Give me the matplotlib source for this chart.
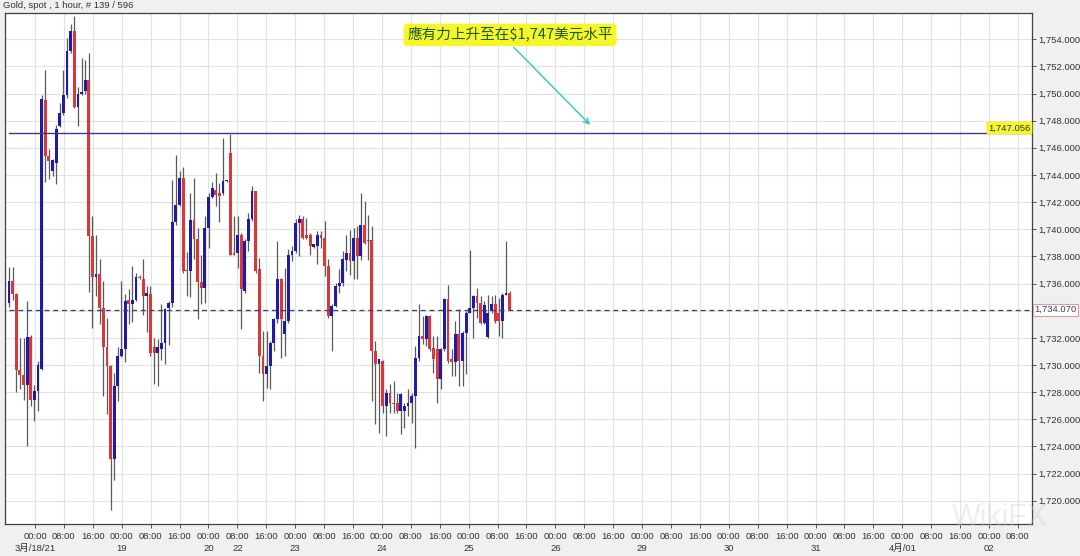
import numpy as np
import matplotlib.pyplot as plt

plt.rcParams['font.family'] = ['Liberation Sans', 'Noto Sans CJK SC']

# hourly candles (blue = up, red = down)
opens = [1734.6, 1736.2, 1735.2, 1729.6, 1729.3, 1728.5, 1732.1, 1727.4, 1728.1, 1729.7,
         1749.5, 1745.4, 1744.3, 1744.9, 1747.6, 1748.6, 1749.9, 1753.1, 1754.6, 1749.0,
         1750.0, 1750.15, 1751.0, 1739.5, 1736.5, 1736.7, 1734.2, 1731.3, 1729.9, 1723.1,
         1728.45, 1730.7, 1731.15, 1734.8, 1734.5, 1734.8, 1736.5, 1736.3, 1735.1, 1735.2,
         1731.3, 1730.9, 1731.15, 1731.6, 1734.2, 1734.6, 1740.5, 1741.8, 1743.8, 1737.0,
         1736.9, 1740.7, 1739.25, 1736.1, 1735.7, 1740.1, 1742.4, 1742.9, 1742.68, 1742.68,
         1743.54, 1745.6, 1738.27, 1738.27, 1739.61, 1735.45, 1739.12, 1740.72, 1742.8, 1737.04,
         1730.67, 1729.32, 1729.93, 1731.65, 1733.36, 1736.31, 1732.26, 1733.24, 1738.14, 1738.39,
         1740.47, 1740.72, 1739.61, 1739.61, 1738.71, 1738.76, 1739.61, 1739.37, 1737.29, 1733.61,
         1734.35, 1735.82, 1736.06, 1737.77, 1738.26, 1737.65, 1739.36, 1738.01, 1740.34, 1739.24,
         1739.24, 1731.03, 1730.05, 1730.29, 1726.98, 1727.96, 1727.23, 1727.23, 1726.62, 1726.62,
         1726.98, 1727.23, 1727.72, 1730.54, 1732.13, 1731.89, 1733.6, 1731.27, 1731.15, 1728.94,
         1731.15, 1734.83, 1730.41, 1730.22, 1732.25, 1730.29, 1732.38, 1733.85, 1734.21, 1735.07,
         1734.58, 1733.11, 1732.08, 1733.97, 1734.46, 1733.85, 1733.23, 1735.19, 1735.32]
highs = [1737.2, 1737.2, 1735.3, 1732.0, 1732.0, 1734.7, 1732.2, 1728.5, 1730.3, 1749.9,
         1751.7, 1745.9, 1745.2, 1747.7, 1749.3, 1751.7, 1754.1, 1755.1, 1755.7, 1750.5,
         1752.6, 1752.5, 1753.0, 1741.0, 1739.6, 1737.8, 1736.2, 1733.5, 1730.0, 1729.4,
         1731.3, 1736.2, 1735.2, 1735.6, 1737.3, 1736.8, 1736.6, 1737.8, 1735.8, 1735.8,
         1732.0, 1731.9, 1734.5, 1734.2, 1734.7, 1743.6, 1745.5, 1744.3, 1744.6, 1738.3,
         1742.7, 1743.8, 1740.1, 1738.1, 1741.0, 1742.7, 1743.5, 1744.15, 1743.4, 1746.7,
         1743.6, 1747.0, 1740.96, 1740.96, 1739.74, 1739.25, 1741.21, 1743.17, 1742.85, 1737.9,
         1732.51, 1732.51, 1731.77, 1733.49, 1739.12, 1736.43, 1737.16, 1738.51, 1738.76, 1740.72,
         1741.08, 1740.96, 1740.84, 1739.7, 1738.9, 1739.86, 1739.86, 1740.59, 1737.78, 1734.47,
         1736.06, 1737.04, 1738.39, 1739.61, 1739.97, 1740.1, 1740.22, 1742.67, 1742.06, 1741.08,
         1740.22, 1731.76, 1730.45, 1730.35, 1728.21, 1728.58, 1728.82, 1727.96, 1727.96, 1727.23,
         1728.21, 1727.96, 1731.4, 1734.46, 1733.6, 1733.72, 1733.72, 1732.13, 1732.13, 1731.27,
         1734.95, 1735.93, 1731.15, 1733.23, 1734.09, 1732.5, 1733.97, 1738.5, 1735.19, 1735.68,
         1735.07, 1734.7, 1735.19, 1735.07, 1735.19, 1734.95, 1735.32, 1739.12, 1735.44]
lows = [1734.3, 1734.8, 1728.0, 1728.2, 1727.4, 1724.0, 1727.0, 1725.9, 1726.6, 1729.6,
        1743.5, 1743.7, 1743.9, 1743.3, 1747.5, 1748.4, 1749.7, 1753.0, 1748.9, 1747.6,
        1749.9, 1750.0, 1735.4, 1732.7, 1735.1, 1733.0, 1727.7, 1726.4, 1719.3, 1721.5,
        1727.35, 1730.6, 1730.2, 1733.0, 1733.2, 1734.7, 1736.3, 1733.7, 1732.4, 1730.7,
        1728.6, 1728.45, 1730.4, 1730.05, 1731.5, 1734.3, 1740.35, 1741.7, 1736.8, 1735.1,
        1735.0, 1737.8, 1733.4, 1734.5, 1734.6, 1738.6, 1742.3, 1741.7, 1740.5, 1742.56,
        1743.5, 1738.1, 1738.1, 1737.16, 1732.63, 1735.33, 1738.39, 1740.59, 1736.8, 1729.44,
        1727.36, 1728.34, 1728.22, 1731.04, 1733.12, 1730.55, 1730.67, 1733.12, 1737.65, 1738.27,
        1738.02, 1739.25, 1739.25, 1738.14, 1738.6, 1737.41, 1738.63, 1736.55, 1733.49, 1731.04,
        1734.3, 1735.33, 1735.82, 1736.91, 1736.66, 1736.3, 1736.3, 1737.77, 1738.9, 1737.77,
        1727.35, 1725.64, 1725.02, 1726.49, 1724.78, 1726.49, 1726.49, 1726.49, 1724.9, 1725.39,
        1726.25, 1725.76, 1723.92, 1730.29, 1731.52, 1731.4, 1731.03, 1729.43, 1727.23, 1728.21,
        1731.03, 1730.17, 1729.19, 1729.19, 1728.45, 1728.45, 1729.31, 1733.8, 1732.01, 1733.48,
        1732.99, 1732.99, 1732.01, 1733.85, 1733.11, 1732.13, 1732.01, 1735.15, 1734.05]
closes = [1736.2, 1735.2, 1729.6, 1729.3, 1728.5, 1732.1, 1727.4, 1728.1, 1730.0, 1749.6,
          1745.4, 1745.0, 1745.1, 1747.4, 1748.6, 1749.9, 1753.1, 1754.6, 1749.0, 1750.0,
          1750.1, 1751.0, 1739.5, 1736.5, 1736.7, 1734.2, 1731.3, 1729.9, 1723.1, 1728.45,
          1730.7, 1731.15, 1734.7, 1734.5, 1734.8, 1736.5, 1736.4, 1735.1, 1735.3, 1730.9,
          1730.9, 1731.3, 1731.6, 1734.1, 1734.6, 1740.5, 1741.8, 1743.8, 1736.9, 1736.9,
          1740.7, 1739.25, 1736.1, 1735.7, 1740.1, 1742.4, 1743.05, 1742.56, 1742.48, 1743.54,
          1743.6, 1738.14, 1738.14, 1739.61, 1735.57, 1739.12, 1740.72, 1742.8, 1736.92, 1730.67,
          1729.32, 1729.93, 1731.65, 1733.36, 1736.31, 1733.36, 1733.24, 1738.14, 1738.39, 1740.47,
          1740.72, 1739.37, 1739.37, 1738.76, 1738.88, 1739.61, 1739.37, 1737.29, 1733.61, 1734.35,
          1735.82, 1736.06, 1737.78, 1738.26, 1737.65, 1739.36, 1738.01, 1740.34, 1738.99, 1739.12,
          1731.03, 1730.05, 1730.41, 1726.98, 1727.96, 1727.23, 1727.11, 1726.62, 1727.84, 1726.98,
          1727.23, 1727.72, 1730.54, 1732.13, 1731.89, 1733.6, 1731.15, 1730.41, 1728.94, 1731.15,
          1734.83, 1730.29, 1730.22, 1732.25, 1730.29, 1732.38, 1733.85, 1734.21, 1735.07, 1734.58,
          1733.11, 1734.4, 1733.85, 1734.46, 1733.23, 1733.23, 1735.19, 1735.32, 1734.07]

y_ticks = np.arange(1720, 1755, 2)
time_labels = ['00:00', '08:00', '16:00']
day_labels = {0: '3月/18/21', 3: '19', 6: '20', 7: '22', 9: '23', 12: '24', 15: '25',
              18: '26', 21: '29', 24: '30', 27: '31', 30: '4月/01', 33: '02'}
n_ticks = 35

target_level = 1747.056
last_price = 1734.070
title = 'Gold, spot , 1 hour, # 139 / 596'
note = '應有力上升至在$1,747美元水平'

fig = plt.figure(figsize=(10.8, 5.56), dpi=100, facecolor='#f0f0f0')
ax = fig.add_axes([5 / 1080, 32 / 556, 1027 / 1080, 511 / 556])
ax.set_facecolor('white')

o = np.array(opens)
h = np.array(highs)
l = np.array(lows)
c = np.array(closes)
x = np.arange(len(o))
up = c >= o
colors = np.where(up, '#1c1ca8', '#d8383a')

ax.vlines(x, l, h, color='#5a5a5a', lw=0.9, zorder=3)
body_h = np.maximum(np.abs(c - o), 0.1)
ax.bar(x, body_h, bottom=np.minimum(o, c), width=0.78, color=colors, zorder=4, linewidth=0)

# x axis: one bar per hour, a label every 8 bars
tick_pos = 7.17 + 7.968 * np.arange(n_ticks)
ax.set_xticks(tick_pos)
ax.set_xticklabels([time_labels[k % 3] for k in range(n_ticks)], fontsize=6.8, color='#333333')
for k, day in day_labels.items():
    ax.text(tick_pos[k], -0.047, day, transform=ax.get_xaxis_transform(),
            ha='center', va='center', fontsize=6.8, color='#333333')
ax.set_xlim(-1.1, 281.97)

ax.set_ylim(1718.29, 1755.93)
ax.yaxis.tick_right()
ax.set_yticks(y_ticks)
# the boxed last price covers the 1,734 label
ax.set_yticklabels(['' if v == 1734 else '{:,.3f}'.format(v) for v in y_ticks],
                   fontsize=6.8, color='#333333')
ax.tick_params(axis='both', length=3, width=0.7, color='#555555')
ax.tick_params(axis='y', pad=1.5)
ax.tick_params(axis='x', pad=3)

ax.grid(True, color='#e2e2e2', lw=0.8, zorder=0)
for s in ax.spines.values():
    s.set_color('#404040')
    s.set_linewidth(0.9)

ax.axhline(target_level, xmin=0.0035, color='#3a3a80', lw=1.0, zorder=5)
ax.axhline(last_price, xmin=0.0035, color='#3a3a80', lw=0.9, ls=(0, (4, 3)), zorder=5)

ax.text(0.9985, target_level + 0.08, '{:,.3f}'.format(target_level), transform=ax.get_yaxis_transform(),
        ha='right', va='bottom', fontsize=6.8, color='#333333',
        bbox=dict(boxstyle='round,pad=0.2', fc='#f6f62a', ec='none'), zorder=6)
ax.text(1.0025, last_price, '{:,.3f}'.format(last_price), transform=ax.get_yaxis_transform(),
        ha='left', va='center', fontsize=6.8, color='#3a3a80',
        bbox=dict(boxstyle='square,pad=0.15', fc='white', ec='#e09a9a', lw=0.8), zorder=6)

ax.annotate('', xy=(160.7, 1747.55), xytext=(138.6, 1753.55),
            arrowprops=dict(arrowstyle='->', color='#2fc6c6', lw=1.0), zorder=6)
ax.text(138.1, 1754.32, note, ha='center', va='center', fontsize=10.5,
        family=['Noto Sans CJK TC', 'DejaVu Sans'], color='#1d5a1d',
        bbox=dict(boxstyle='round,pad=0.25', fc='#f6f62a', ec='none'), zorder=6)

fig.text(3 / 1080, 1 - 6 / 556, title, ha='left', va='center', fontsize=6.8, color='#333333')
fig.text(1000 / 1080, 1 - 518 / 556, 'WikiFX', ha='center', va='center', fontsize=22,
         color='#d0d0d0', alpha=0.35)

fig.savefig('out.png', dpi=100, facecolor=fig.get_facecolor())
